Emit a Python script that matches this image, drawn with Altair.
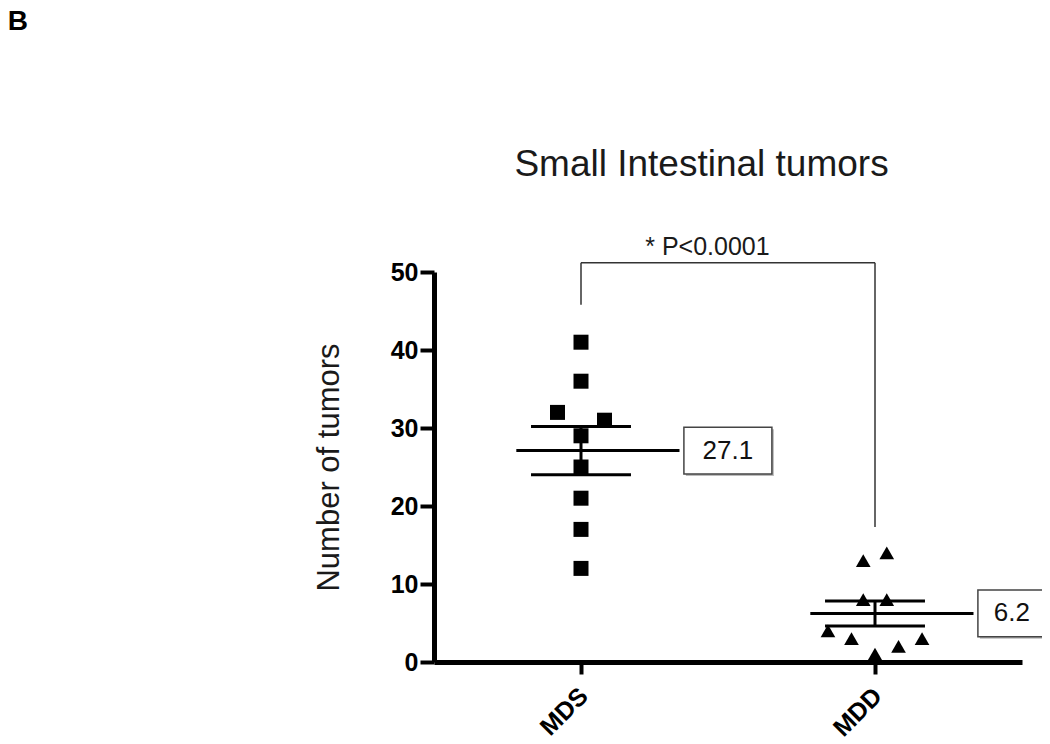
import altair as alt
import pandas as pd
import numpy as np

# ---- data ----
groups = ["MDS", "MDD"]
group_pos = [1, 3]
shapes = ["square", "triangle-up"]
mds_values = [41, 36, 32, 31, 29, 25, 21, 17, 12]
mds_offsets = [0, 0, -0.16, 0.16, 0, 0, 0, 0, 0]
mdd_values = [13, 14, 8, 8, 4, 3, 1, 2, 3]
mdd_offsets = [-0.08, 0.08, -0.08, 0.08, -0.32, -0.16, 0, 0.16, 0.32]
y_ticks = [0, 10, 20, 30, 40, 50]
title_text = "Small Intestinal tumors"
y_title = "Number of tumors"
p_text = "* P<0.0001"
panel_letter = "B"

FONT = "Liberation Sans"
PX_PER_X = 147.0  # pixels per x unit (width 588 / domain 4)

# ---- tables ----
rows = []
for g, pos, vals, offs in [(groups[0], group_pos[0], mds_values, mds_offsets),
                           (groups[1], group_pos[1], mdd_values, mdd_offsets)]:
    for v, o in zip(vals, offs):
        rows.append({"group": g, "x": pos + o, "y": v})
points = pd.DataFrame(rows)

stats_rows = []
for g, pos, vals in [(groups[0], group_pos[0], mds_values), (groups[1], group_pos[1], mdd_values)]:
    arr = np.array(vals, dtype=float)
    m = arr.mean()
    sem = arr.std(ddof=1) / np.sqrt(len(arr))
    lab = f"{m:.1f}"
    bw = (20 * len(lab) + 8) / PX_PER_X
    bx = pos + 0.70
    stats_rows.append({
        "group": g, "pos": pos, "mean": m, "lo": m - sem, "hi": m + sem,
        "ml": pos - 0.44, "mr": pos + 0.67,
        "cl": pos - 0.34, "cr": pos + 0.34,
        "bx": bx, "bx2": bx + bw, "bxc": bx + bw / 2,
        "by": m - 3.0, "by2": m + 3.0, "label": lab,
    })
stats = pd.DataFrame(stats_rows)

xs = alt.Scale(domain=[0, 4], nice=False, zero=False)
ys = alt.Scale(domain=[0, 50], nice=False, zero=False)

x_axis = alt.Axis(values=group_pos,
                  labelExpr=f"datum.value == {group_pos[0]} ? '{groups[0]}' : '{groups[1]}'",
                  title=None, grid=False, domainWidth=5, domainColor="black",
                  tickSize=12, tickWidth=4, tickColor="black",
                  labelAngle=315, labelAlign="right", labelBaseline="top",
                  labelPadding=9, labelOffset=-6,
                  labelFont=FONT, labelFontSize=25, labelFontWeight="bold", labelColor="black")
y_axis = alt.Axis(values=y_ticks, title=y_title, grid=False, domainWidth=5, domainColor="black",
                  tickSize=14, tickWidth=4, tickColor="black", labelPadding=2,
                  labelFont=FONT, labelFontSize=25, labelFontWeight="bold", labelColor="black",
                  titleFont=FONT, titleFontSize=31, titleFontWeight="normal", titleColor="#1a1a1a",
                  titlePadding=45)


def X(field):
    return alt.X(field, scale=xs, axis=x_axis, title=None)


def Y(field):
    return alt.Y(field, scale=ys, axis=y_axis, title=y_title)


pts = alt.Chart(points).mark_point(filled=True, opacity=1, color="black").encode(
    x=X("x:Q"),
    y=Y("y:Q"),
    shape=alt.Shape("group:N", scale=alt.Scale(domain=groups, range=shapes), legend=None),
    size=alt.Size("group:N", scale=alt.Scale(domain=groups, range=[225, 215]), legend=None),
)

base = alt.Chart(stats)
mean_line = base.mark_rule(color="black", strokeWidth=3).encode(
    x=X("ml:Q"), x2="mr:Q", y=Y("mean:Q"))
sem_v = base.mark_rule(color="black", strokeWidth=3).encode(
    x=X("pos:Q"), y=Y("lo:Q"), y2="hi:Q")
cap_hi = base.mark_rule(color="black", strokeWidth=3).encode(
    x=X("cl:Q"), x2="cr:Q", y=Y("hi:Q"))
cap_lo = base.mark_rule(color="black", strokeWidth=3).encode(
    x=X("cl:Q"), x2="cr:Q", y=Y("lo:Q"))
box_shadow = base.mark_rect(fill="#bbbbbb", xOffset=2, yOffset=2, x2Offset=2, y2Offset=2).encode(
    x=X("bx:Q"), x2="bx2:Q", y=Y("by:Q"), y2="by2:Q")
box = base.mark_rect(fill="white", stroke="#444444", strokeWidth=1.5).encode(
    x=X("bx:Q"), x2="bx2:Q", y=Y("by:Q"), y2="by2:Q")
box_text = base.mark_text(font=FONT, fontSize=26, color="#111111", align="center", baseline="middle").encode(
    x=X("bxc:Q"), y=Y("mean:Q"), text="label:N")

# significance bracket
bracket_top = 51.2
bracket = pd.DataFrame([
    {"x": group_pos[0], "x2": group_pos[1], "y": bracket_top, "y2": bracket_top},
    {"x": group_pos[0], "x2": group_pos[0], "y": 45.8, "y2": bracket_top},
    {"x": group_pos[1], "x2": group_pos[1], "y": 17.3, "y2": bracket_top},
])
brk = alt.Chart(bracket).mark_rule(color="#333333", strokeWidth=1.5).encode(
    x=X("x:Q"), x2="x2:Q", y=Y("y:Q"), y2="y2:Q")

ann = pd.DataFrame([
    {"x": 1.86, "y": 53.2, "text": p_text, "kind": "p"},
    {"x": 1.82, "y": 63.7, "text": title_text, "kind": "title"},
    {"x": -2.9, "y": 83.8, "text": panel_letter, "kind": "letter"},
])
p_lab = alt.Chart(ann[ann.kind == "p"]).mark_text(
    font=FONT, fontSize=25, color="#1a1a1a", align="center", baseline="middle").encode(
    x=X("x:Q"), y=Y("y:Q"), text="text:N")
t_lab = alt.Chart(ann[ann.kind == "title"]).mark_text(
    font=FONT, fontSize=37, color="#1a1a1a", align="center", baseline="middle").encode(
    x=X("x:Q"), y=Y("y:Q"), text="text:N")
l_lab = alt.Chart(ann[ann.kind == "letter"]).mark_text(
    font=FONT, fontSize=28, fontWeight="bold", color="black", align="left", baseline="top").encode(
    x=X("x:Q"), y=Y("y:Q"), text="text:N")

chart = alt.layer(
    pts, brk, mean_line, sem_v, cap_hi, cap_lo, box_shadow, box, box_text, p_lab, t_lab, l_lab
).properties(
    width=588, height=390,
    autosize=alt.AutoSizeParams(type="none"),
    padding={"left": 426, "top": 264, "right": 20, "bottom": 78},
    background="white",
).configure_view(stroke=None)

chart.save("out.html", embed_options={"renderer": "svg", "actions": False})
